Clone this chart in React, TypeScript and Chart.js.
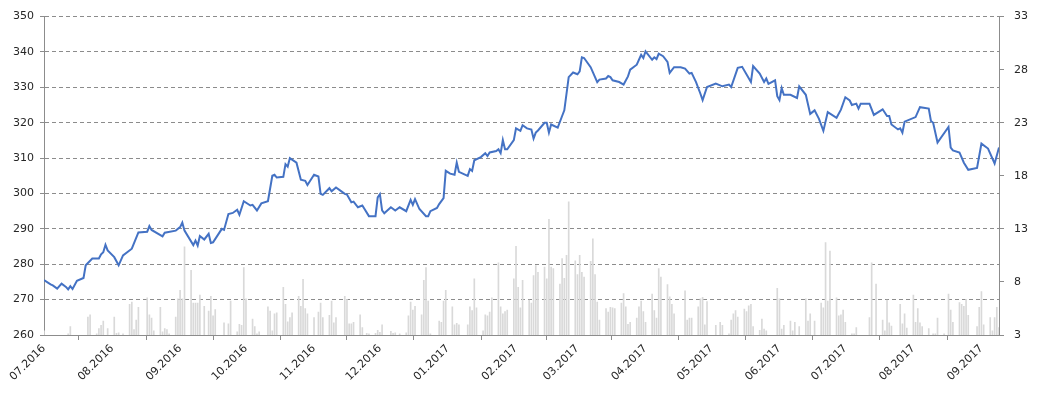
import React, { useEffect, useRef } from "react";
import { Chart, registerables } from "chart.js";

Chart.register(...registerables);

// Day offsets counted from 01.07.2016
const monthStartDays = [0, 31, 62, 92, 123, 153, 184, 215, 243, 274, 304, 335, 365, 396, 427];
const monthLabels = [
  "07.2016", "08.2016", "09.2016", "10.2016", "11.2016", "12.2016",
  "01.2017", "02.2017", "03.2017", "04.2017", "05.2017", "06.2017",
  "07.2017", "08.2017", "09.2017",
];

const priceDays = [
  0, 3, 4, 6, 8, 10, 11, 12, 13, 15, 18, 19, 22, 25, 26, 27, 28, 29, 32, 34, 36, 40, 43, 47, 48, 49,
  54, 55, 60, 62, 63, 64, 68, 69, 70, 71, 73, 75, 76, 77, 81, 82, 84, 86, 88, 89, 91, 94, 95, 97, 99,
  102, 104, 105, 106, 109, 110, 111, 112, 115, 117, 119, 120, 123, 125, 126, 127, 130, 131, 133, 135,
  137, 138, 140, 141, 143, 145, 146, 148, 151, 152, 153, 154, 155, 158, 160, 162, 165, 167, 168, 169,
  171, 174, 175, 176, 179, 180, 182, 183, 185, 187, 188, 189, 193, 194, 195, 196, 199, 201, 202, 203,
  206, 207, 208, 209, 210, 211, 214, 215, 217, 218, 220, 222, 223, 224, 225, 228, 229, 230, 231, 234,
  236, 237, 239, 241, 243, 244, 245, 246, 249, 252, 253, 256, 257, 258, 259, 262, 264, 266, 267, 270,
  272, 273, 274, 277, 278, 279, 280, 282, 284, 285, 287, 290, 292, 294, 295, 297, 299, 300, 302, 306,
  309, 312, 313, 316, 318, 322, 323, 326, 328, 329, 330, 333, 334, 335, 336, 337, 340, 343, 344, 347,
  349, 351, 353, 355, 357, 361, 363, 365, 367, 368, 370, 371, 372, 376, 378, 382, 384, 385, 386, 389,
  390, 391, 392, 397, 399, 403, 404, 405, 407, 412, 413, 414, 417, 419, 421, 425, 427, 430, 433, 435,
];
const priceValues = [
  275.5, 274.3, 274, 273.1, 274.5, 273.6, 272.9, 273.8, 273, 275.3, 276.1, 279.7, 281.6, 281.6, 282.8,
  283.4, 285.5, 283.9, 282, 279.7, 282.5, 284.4, 289, 289.2, 290.8, 289.7,
  287.9, 288.9, 289.5, 290.5, 291.8, 289.5, 285.4, 286.7, 285.3, 288, 287, 288.6, 286, 286.2, 290, 289.7,
  294.2, 294.5, 295.4, 294, 297.8, 296.6, 296.8, 295.2, 297.2,
  297.8, 305, 305.3, 304.5, 304.7, 308.3, 307.6, 310, 308.7, 303.9, 303.6, 302.4, 305.3, 304.8, 299.9,
  299.6, 301.5, 300.6, 301.7, 300.8,
  299.9, 299.7, 297.5, 297.7, 296.1, 296.6, 295.6, 293.6, 293.6, 298.9, 299.8, 295.2, 294.4, 296.1, 295.2,
  296.1, 295, 298.2, 296.8, 298.4,
  295.6, 293.6, 293.6, 295, 295.9, 297, 298.7, 306.4, 305.6, 305.3, 308.7, 306.1, 305, 306.9, 306.4, 309.4,
  310.3, 311.4, 310.6, 311.6,
  312, 312.5, 311.4, 315.1, 312.5, 312.5, 315.1, 318.4, 317.7, 319.3, 318.4, 318.1, 315.5, 317.2, 317.8,
  320, 320, 317.2, 319.5, 318.6,
  321.9, 323.5, 332.9, 334.2, 333.7, 334.5, 338.5, 338.3, 335.7, 331.5, 332.2, 332.5, 333.2, 332.9, 332,
  331.5, 330.8, 333.1, 335, 336.4,
  339.2, 338.3, 340.2, 337.8, 338.5, 338, 339.5, 338.8, 337.2, 334.1, 335.7, 335.7, 335.3, 333.9, 334.1,
  331.5, 328.2, 326.4, 330.1, 331.1,
  330.3, 330.8, 330.1, 335.5, 335.8, 331.5, 336, 333.9, 331.5, 332.5, 331, 332, 327.5, 326.4, 329.8, 327.9,
  327.9, 327, 330.3, 327.9,
  322.5, 323.5, 321.1, 317.7, 323, 321.4, 323.7, 327.2, 326.3, 325, 325.4, 324, 325.4, 325.4, 322.2, 323.8,
  321.9, 321.9, 319.5, 318.1,
  318.4, 317.2, 320.3, 321.6, 324.4, 324, 320.5, 320, 314.4, 318.8, 313, 312.2, 311.6, 308.7, 306.7, 307.2,
  314.1, 312.7, 308.5, 313,
];

const volumeDays = [
  0, 11, 12, 20, 21, 24, 25, 26, 27, 29, 32, 33, 34, 36, 39, 40, 41, 42, 43, 47, 48, 49, 50, 53, 54, 55,
  56, 57, 60, 61, 62, 63, 64, 67, 68, 69, 70, 71, 73, 75, 76, 77, 78, 82, 84, 85, 88, 89, 90, 91, 92, 95,
  96, 97, 98, 102, 103, 104, 105, 106, 109, 110, 111, 112, 113, 116, 117, 118, 119, 120, 123, 125, 126,
  127, 130, 131, 132, 133, 137, 138, 139, 140, 141, 144, 145, 147, 148, 151, 152, 153, 154, 158, 159, 160,
  162, 165, 166, 167, 168, 169, 172, 173, 174, 175, 176, 180, 181, 182, 183, 186, 187, 188, 189, 193, 194,
  195, 196, 197, 200, 201, 202, 203, 204, 207, 208, 209, 210, 211, 214, 215, 216, 217, 218, 221, 222, 223,
  224, 225, 228, 229, 230, 231, 232, 235, 236, 237, 238, 239, 242, 243, 244, 245, 246, 249, 250, 251, 252,
  253, 256, 257, 258, 259, 260, 263, 264, 265, 266, 267, 270, 271, 272, 273, 274, 277, 278, 279, 280, 281,
  284, 285, 286, 287, 292, 293, 294, 295, 298, 299, 300, 301, 302, 306, 308, 309, 312, 313, 314, 315, 316,
  319, 320, 321, 322, 323, 326, 327, 328, 329, 334, 335, 336, 337, 340, 341, 342, 344, 347, 348, 349, 351,
  354, 355, 356, 357, 358, 361, 362, 363, 364, 365, 368, 369, 370, 376, 377, 379, 382, 383, 384, 385, 386,
  390, 391, 392, 393, 396, 397, 398, 399, 400, 403, 405, 406, 407, 410, 412, 413, 414, 417, 418, 419, 420,
  421, 425, 426, 427, 428, 431, 432, 433, 434, 435,
];
const volumeValues = [
  3.4, 3.1, 3.8, 4.7, 4.9, 3.1, 3.6, 3.9, 4.3, 3.6, 4.7, 3.15, 3.2, 3.1, 5.9, 6.1, 3.5, 4.4, 5.6, 6.5, 4.9,
  4.6, 3.4, 5.6, 3.3, 3.6,
  3.5, 3.1, 4.7, 6.4, 7.2, 6.4, 11.3, 9.1, 6.0, 6.0, 6.0, 6.75, 5.7, 5.25, 6.65, 4.8, 5.4, 4.15, 4.05, 6.2,
  3.3, 4.0, 3.9, 9.35, 6.4, 4.5,
  3.8, 3.1, 3.3, 5.65, 5.25, 3.4, 5.0, 5.1, 7.5, 5.9, 4.25, 4.65, 5.1, 6.65, 5.7, 8.25, 5.5, 5.0, 4.65, 5.15,
  6.0,
  4.65, 4.85, 6.2, 4.15, 4.65, 6.65, 6.35, 4.05, 4.05, 4.2, 4.9, 3.7, 3.15, 3.1, 3.15, 3.45, 3.25, 3.95, 3.35,
  3.15, 3.2,
  3.1, 3.2, 4.8, 6.1, 5.35, 5.7, 4.9, 8.15, 9.35, 6.2, 3.1, 4.3, 4.2, 6.2, 7.2, 5.65, 3.95, 4.1, 3.95, 3.95,
  5.65,
  5.3, 8.3, 5.55, 3.4, 4.9, 4.8, 5.15, 6.5, 9.8, 5.65, 5.0, 5.2, 5.35, 8.3, 11.35, 7.5, 5.55, 8.15, 6.3, 6.0,
  8.6,
  9.55, 8.9, 9.4, 8.3, 13.9, 9.4, 9.25, 7.8, 10.2, 8.35, 10.5, 15.55, 10.0, 8.7, 10.5, 8.9, 8.45, 9.95, 12.05,
  8.7, 6.1,
  4.4, 5.5, 5.15, 5.6, 5.55, 5.5, 6.0, 6.9, 5.65, 4.0, 4.2, 4.6, 5.65, 6.2, 5.2, 4.2, 6.85, 5.3, 4.6, 9.25,
  8.45,
  7.75, 6.6, 5.9, 5.0, 7.15, 4.4, 4.6, 4.6, 5.65, 6.4, 6.55, 3.95, 6.15, 3.9, 4.2, 3.9, 3.1, 4.4, 5.0, 5.3,
  4.7,
  5.45, 5.2, 5.75, 5.9, 3.8, 3.45, 4.5, 3.55, 3.4, 7.4, 6.4, 3.55, 3.9, 4.3, 3.4, 4.2, 3.8, 6.4, 4.3, 5.0,
  4.3,
  6.0, 5.55, 11.7, 6.2, 10.9, 6.5, 4.8, 4.9, 5.35, 4.2, 3.1, 3.1, 3.7, 4.65, 9.8, 7.8, 4.4, 3.4, 6.3, 4.15,
  3.85,
  5.9, 4.05, 5.0, 3.65, 6.75, 4.2, 5.5, 4.15, 3.8, 3.6, 3.1, 3.1, 4.6, 3.1, 6.85, 5.35, 4.2, 6.05, 5.9, 5.7,
  6.35,
  4.85, 3.8, 5.6, 7.1, 3.95, 4.65, 3.4, 4.65, 5.6, 3.7,
];

const leftTicks = { min: 260, max: 350, step: 10 };
const rightTicks = { min: 3, max: 33, step: 5 };

const FONT = "'DejaVu Sans', Verdana, sans-serif";
const AXIS = "#8c8c8c";
const TEXT = "#262626";

export default function App() {
  const ref = useRef<HTMLCanvasElement | null>(null);

  useEffect(() => {
    document.body.style.margin = "0";
    const canvas = ref.current;
    if (!canvas) return;

    const priceData = priceDays.map((d, i) => ({ x: d, y: priceValues[i] }));
    const volumeData = volumeDays.map((d, i) => ({ x: d, y: volumeValues[i] }));

    const chart = new Chart(canvas, {
      type: "bar",
      data: {
        datasets: [
          {
            type: "line",
            label: "Price",
            data: priceData,
            yAxisID: "y",
            borderColor: "#4472C4",
            borderWidth: 2,
            pointRadius: 0,
            tension: 0,
            order: 0,
          } as any,
          {
            type: "bar",
            label: "Volume",
            data: volumeData,
            yAxisID: "y1",
            backgroundColor: "#d9d9d9",
            borderWidth: 0,
            barThickness: 1,
            grouped: false,
            order: 1,
          } as any,
        ],
      },
      options: {
        responsive: false,
        animation: false,
        layout: { padding: { top: 15, left: 0, right: 0, bottom: 0 } },
        plugins: { legend: { display: false }, tooltip: { enabled: false } },
        scales: {
          x: {
            type: "linear",
            min: 0,
            max: 435,
            offset: false,
            afterBuildTicks: (scale: any) => {
              scale.ticks = monthStartDays.map((v) => ({ value: v }));
            },
            afterFit: (scale: any) => {
              scale.height = 60;
            },
            ticks: {
              autoSkip: false,
              minRotation: 45,
              maxRotation: 45,
              padding: 2,
              color: TEXT,
              font: { family: FONT, size: 11 },
              callback: (_v: any, i: number) => monthLabels[i],
            },
            grid: { drawOnChartArea: false, drawTicks: true, tickLength: 5, color: AXIS },
            border: { display: true, color: AXIS, width: 1 },
          },
          y: {
            type: "linear",
            position: "left",
            min: leftTicks.min,
            max: leftTicks.max,
            afterFit: (scale: any) => {
              scale.width = 44;
            },
            ticks: {
              stepSize: leftTicks.step,
              padding: 6,
              color: TEXT,
              font: { family: FONT, size: 11 },
            },
            grid: { color: AXIS, tickLength: 4, tickColor: AXIS, lineWidth: 1 },
            border: { display: true, color: AXIS, width: 1, dash: [4, 3] },
          },
          y1: {
            type: "linear",
            position: "right",
            min: rightTicks.min,
            max: rightTicks.max,
            afterFit: (scale: any) => {
              scale.width = 50;
            },
            ticks: {
              stepSize: rightTicks.step,
              padding: 10,
              color: TEXT,
              font: { family: FONT, size: 11 },
            },
            grid: { drawOnChartArea: false, drawTicks: true, tickLength: 5, color: AXIS },
            border: { display: true, color: AXIS, width: 1 },
          },
        },
      },
    });

    return () => chart.destroy();
  }, []);

  return (
    <div style={{ width: 1049, height: 395 }}>
      <canvas ref={ref} width={1049} height={395} style={{ display: "block" }} />
    </div>
  );
}
